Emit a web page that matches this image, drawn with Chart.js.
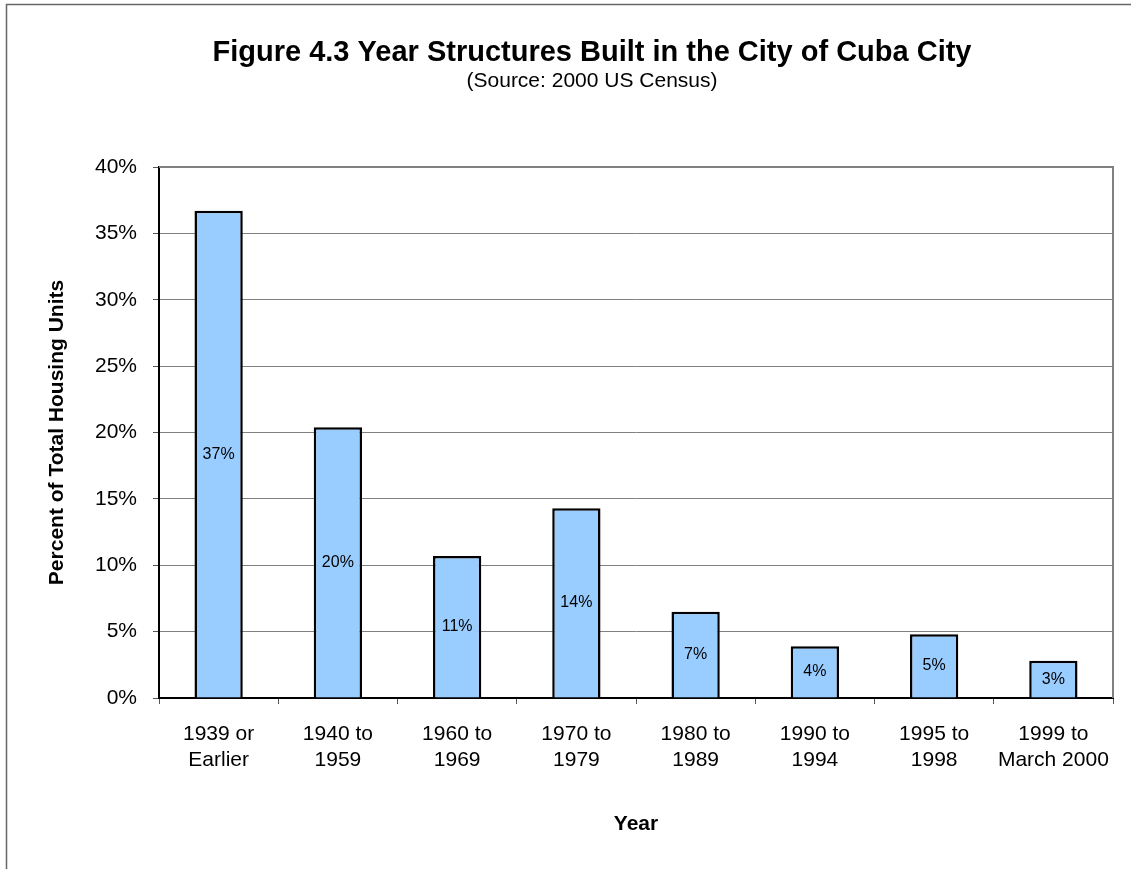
<!DOCTYPE html>
<html>
<head>
<meta charset="utf-8">
<script src="https://cdn.jsdelivr.net/npm/chart.js@4/dist/chart.umd.min.js"></script>
<style>
html,body{margin:0;padding:0;background:#fff;}
#wrap{width:1131px;height:869px;}
</style>
</head>
<body>
<div id="wrap"><canvas id="c" width="1131" height="869"></canvas></div>
<script>
const categories = [["1939 or","Earlier"],["1940 to","1959"],["1960 to","1969"],["1970 to","1979"],["1980 to","1989"],["1990 to","1994"],["1995 to","1998"],["1999 to","March 2000"]];
const percentValues = [36.7, 20.4, 10.7, 14.3, 6.5, 3.9, 4.8, 2.8];
const valueLabels = ["37%","20%","11%","14%","7%","4%","5%","3%"];
const yTicks = [0,5,10,15,20,25,30,35,40];

const FONT = "'Liberation Sans', Arial, sans-serif";

const framePlugin = {
  id: 'frame',
  beforeDatasetsDraw(chart) {
    const a = chart.chartArea, ctx = chart.ctx;
    ctx.save();
    ctx.strokeStyle = '#808080';
    ctx.lineWidth = 2;
    ctx.beginPath();
    ctx.moveTo(a.left, a.top);
    ctx.lineTo(a.right, a.top);
    ctx.lineTo(a.right, a.bottom);
    ctx.stroke();
    ctx.restore();
  },
  afterDatasetsDraw(chart) {
    const ctx = chart.ctx;
    const meta = chart.getDatasetMeta(0);
    ctx.save();
    ctx.fillStyle = '#000';
    ctx.font = '16px ' + FONT;
    ctx.textAlign = 'center';
    ctx.textBaseline = 'middle';
    meta.data.forEach((bar, i) => {
      const y = (bar.y + bar.base) / 2;
      ctx.fillText(valueLabels[i], bar.x, y);
    });
    ctx.restore();
  },
  afterDraw(chart) {
    const ctx = chart.ctx;
    ctx.save();
    ctx.strokeStyle = '#666';
    ctx.lineWidth = 1.5;
    ctx.beginPath();
    ctx.moveTo(6.5, 869);
    ctx.lineTo(6.5, 4.5);
    ctx.lineTo(1131, 4.5);
    ctx.stroke();
    ctx.restore();
  }
};

new Chart(document.getElementById('c'), {
  type: 'bar',
  data: {
    labels: categories,
    datasets: [{
      data: percentValues,
      backgroundColor: '#99CCFF',
      borderColor: '#000',
      borderWidth: 2.5,
      categoryPercentage: 1,
      barPercentage: 0.405
    }]
  },
  options: {
    responsive: false,
    animation: false,
    layout: { padding: { left: 71, right: 18, top: 0, bottom: 0 } },
    plugins: {
      legend: { display: false },
      tooltip: { enabled: false },
      title: {
        display: true,
        text: 'Figure 4.3 Year Structures Built in the City of Cuba City',
        color: '#000',
        font: { family: FONT, size: 29, weight: 'bold', lineHeight: 1.2 },
        padding: { top: 36, bottom: 0 }
      },
      subtitle: {
        display: true,
        text: '(Source: 2000 US Census)',
        color: '#000',
        font: { family: FONT, size: 21, lineHeight: 1.0 },
        padding: { top: 0, bottom: 75.2 }
      }
    },
    scales: {
      x: {
        grid: { display: true, drawOnChartArea: false, drawTicks: true, tickLength: 6, tickColor: '#555', offset: true },
        border: { display: true, color: '#000', width: 2 },
        ticks: { color: '#000', font: { family: FONT, size: 21, lineHeight: 1.2 }, padding: 18, maxRotation: 0, autoSkip: false },
        title: { display: true, text: 'Year', color: '#000', font: { family: FONT, size: 21, weight: 'bold', lineHeight: 1.2 }, padding: { top: 0, bottom: 32 } },
        afterFit(s) { s.height = 171; }
      },
      y: {
        min: 0, max: 40,
        afterBuildTicks(s) { s.ticks = yTicks.map(v => ({ value: v })); },
        grid: { color: '#808080', lineWidth: 1, tickLength: 6, tickColor: '#555' },
        border: { display: true, color: '#000', width: 2 },
        ticks: { color: '#000', font: { family: FONT, size: 21 }, padding: 16, callback: v => v + '%' },
        title: { display: true, text: 'Percent of Total Housing Units', color: '#000', font: { family: FONT, size: 21, weight: 'bold', lineHeight: 1.2 }, padding: { top: -26.6, bottom: 0 } },
        afterFit(s) { s.width = 88; }
      }
    }
  },
  plugins: [framePlugin]
});
</script>
</body>
</html>
